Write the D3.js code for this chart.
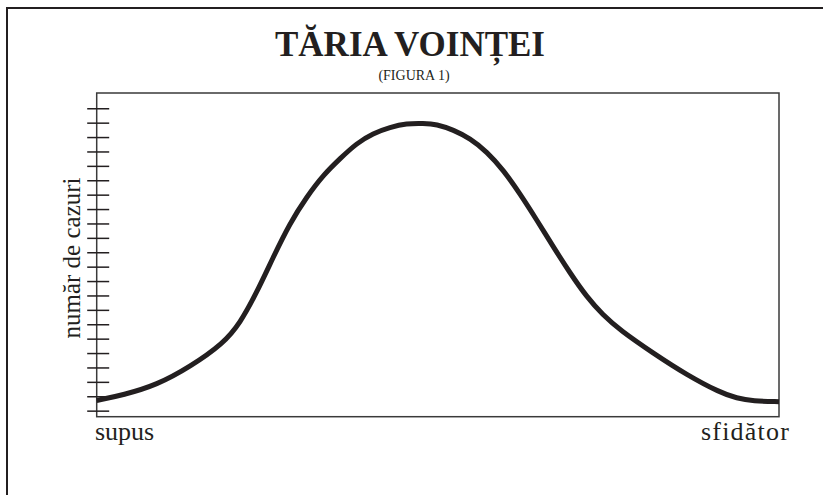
<!DOCTYPE html>
<html>
<head>
<meta charset="utf-8">
<script src="https://cdn.jsdelivr.net/npm/d3@7"></script>
<style>
  body { margin: 0; background: #fff; }
  text { font-family: "Liberation Serif", "Times New Roman", serif; fill: #231f20; }
</style>
</head>
<body>
<div id="chart"></div>
<script>
// curve: position (0 = supus .. 100 = sfidator) and count (in tick units)
const position = [0, 3.9, 8.8, 13.7, 18.6, 21.0, 23.4, 25.9, 28.3, 30.8, 33.2, 35.7, 38.1, 40.5, 43.0, 45.4, 47.9,
  49.8, 52.3, 54.7, 57.2, 59.6, 62.0, 64.5, 66.9, 69.4, 71.8, 74.2, 76.7, 81.6, 86.5, 91.4, 93.8, 96.2, 100];
const cases = [1.71, 2.09, 2.78, 4.05, 5.68, 7.07, 9.15, 11.69, 14.01, 15.86, 17.36, 18.52, 19.57, 20.26, 20.68, 20.95, 20.95,
  20.9, 20.49, 19.91, 18.98, 17.71, 16.09, 14.24, 12.39, 10.54, 8.91, 7.64, 6.60, 4.98, 3.48, 2.25, 1.86, 1.67, 1.62];
const tickValues = d3.range(1, 23);   // 22 unlabelled ticks on the y axis
const xLabels = ["supus", "sfidător"];

const svgWidth = 823;
const svgHeight = 495;
const box = { left: 96.7, right: 779, top: 93, bottom: 416.7 };
const ink = "#231f20";

const svg = d3.select("#chart")
  .append("svg")
  .attr("width", svgWidth)
  .attr("height", svgHeight);

// outer frame (only top and left edges visible)
svg.append("path")
  .attr("d", `M7,${svgHeight} V8 H${svgWidth}`)
  .attr("fill", "none")
  .attr("stroke", ink)
  .attr("stroke-width", 2);

// scales
const xScale = d3.scaleLinear().domain([0, 100]).range([box.left, box.right]);
const yScale = d3.scaleLinear().domain([0.58, 23.06]).range([box.bottom, box.top]);

// plot box
svg.append("rect")
  .attr("x", xScale(0))
  .attr("y", yScale(23.06))
  .attr("width", xScale(100) - xScale(0))
  .attr("height", yScale(0.58) - yScale(23.06))
  .attr("fill", "none")
  .attr("stroke", "#3a3a3a")
  .attr("stroke-width", 1.5);

// ticks crossing the y axis
const leftAxis = d3.axisLeft(yScale)
  .tickValues(tickValues)
  .tickSize(22)
  .tickFormat("");
const axisG = svg.append("g")
  .attr("transform", `translate(${box.left + 12.5}, 0)`)
  .call(leftAxis);
axisG.select(".domain").remove();
axisG.selectAll(".tick line")
  .attr("stroke", ink)
  .attr("stroke-width", 1.5);

// the curve
const line = d3.line()
  .x((d, i) => xScale(position[i]))
  .y(d => yScale(d))
  .curve(d3.curveBasis);

svg.append("path")
  .datum(cases)
  .attr("d", line)
  .attr("fill", "none")
  .attr("stroke", ink)
  .attr("stroke-width", 5)
  .attr("stroke-linecap", "butt");

// titles
svg.append("text")
  .attr("x", 410)
  .attr("y", 56)
  .attr("text-anchor", "middle")
  .style("font-size", "35px")
  .style("font-weight", "bold")
  .text("TĂRIA VOINȚEI");

svg.append("text")
  .attr("x", 414)
  .attr("y", 80)
  .attr("text-anchor", "middle")
  .style("font-size", "14px")
  .text("(FIGURA 1)");

// x labels
svg.append("text")
  .attr("x", 95)
  .attr("y", 440)
  .style("font-size", "26px")
  .text(xLabels[0]);

svg.append("text")
  .attr("x", 790)
  .attr("y", 440)
  .attr("text-anchor", "end")
  .style("font-size", "26px")
  .style("letter-spacing", "1.2px")
  .text(xLabels[1]);

// y label
svg.append("text")
  .attr("transform", `translate(80, 258) rotate(-90)`)
  .attr("text-anchor", "middle")
  .style("font-size", "25px")
  .text("număr de cazuri");
</script>
</body>
</html>
